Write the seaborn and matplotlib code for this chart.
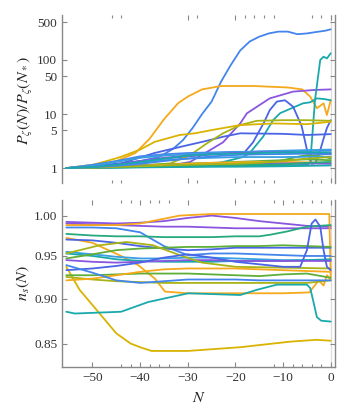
import pandas as pd
import matplotlib.pyplot as plt
import seaborn as sns
from matplotlib.ticker import FixedLocator, FixedFormatter, NullLocator

# colours used for the curves
colors = {
    'gold': '#d9b300', 'orange': '#f6a91c', 'olive': '#a8b415', 'green': '#5fae3a',
    'tealgreen': '#26a97e', 'teal': '#19a9ad', 'lightblue': '#3a9fe2',
    'blue': '#4385ec', 'royal': '#4a64e6', 'purple': '#8a55df',
}

# ---- top panel: P_zeta(N)/P_zeta(N_*) ----
grid = [-55.5, -50, -45, -40, -35, -30, -25, -20, -15, -10, -5, 0]

top_curves = {}
top_curves['big_blue'] = ('blue',
    [-55.5, -50, -45, -40, -36, -33, -31, -29, -27, -25, -23, -21, -19, -17, -15, -13, -11, -9, -7, -5, -3, -1, 0],
    [1.0, 1.05, 1.15, 1.35, 1.6, 2.3, 3.3, 5.5, 10, 17, 40, 80, 150, 220, 270, 310, 335, 335, 300, 310, 330, 350, 370])
top_curves['gold'] = ('orange',
    [-55.5, -50, -45, -41, -38, -35, -32, -30, -27, -23, -16, -9, -6, -4.3, -2.9, -1.5, -0.8, 0],
    [1.0, 1.1, 1.35, 1.9, 3.5, 8, 16, 21, 28.6, 33, 33, 31, 28.6, 21, 12.8, 15.8, 9.6, 18])
top_curves['purple_rise'] = ('purple',
    [-55.5, -45, -35, -31.6, -29.5, -26.8, -22.6, -19, -17.6, -12.8, -7.9, -3.7, 0],
    [1.0, 1.05, 1.1, 1.2, 1.3, 1.8, 3.0, 6.7, 10.3, 19.5, 26, 27.8, 28.6])
top_curves['teal_rise'] = ('teal',
    [-55.5, -40, -25, -18.4, -17, -14.2, -12.1, -10.6, -8.5, -5.8, -4.3, -2.9, -1.5, 0],
    [1.0, 1.05, 1.15, 1.6, 1.9, 3.8, 7.7, 10.4, 12.5, 15.8, 16.5, 19.5, 19, 18])
top_curves['teal_spike'] = ('teal',
    [-55.5, -40, -25, -10, -5, -4.3, -3.3, -2.2, -1.5, -0.8, 0],
    [1.0, 1.04, 1.08, 1.12, 1.15, 1.24, 18, 100, 115, 107, 133])
top_curves['hump_blue'] = ('royal',
    [-55.5, -45, -35, -25, -18, -16.3, -14, -12.8, -11.3, -9.6, -7.9, -6.1, -5, -4, -3.2, -2.2, -1.5, -0.8, 0],
    [1.0, 1.2, 1.5, 1.8, 2.0, 3.0, 7, 11.8, 17, 18, 13.7, 6, 2.2, 1.2, 1.24, 2.15, 3.5, 5.5, 7.7])
top_curves['blue4'] = ('royal',
    [-55.5, -50, -44, -37, -31.3, -26, -22.6, -19, -10, -5, 0],
    [1.0, 1.1, 1.22, 1.9, 2.5, 3.2, 3.8, 4.4, 4.3, 4.1, 4.25])
top_curves['olive'] = ('olive',
    [-55.5, -45, -38, -33.7, -29.5, -26, -22.6, -19, -15.5, -10, -5, 0],
    [1.0, 1.08, 1.15, 1.22, 1.74, 2.86, 4.4, 6.25, 7.5, 7.7, 7.7, 7.5])
top_curves['gold_olive'] = ('gold',
    [-55.5, -50, -47, -44, -40, -36.9, -31.7, -28.5, -25, -19, -12, -5, 0],
    [1.0, 1.15, 1.35, 1.62, 2.2, 3.07, 4.1, 4.4, 5.05, 6.25, 6.7, 6.5, 7.2])
top_curves['green_bump'] = ('green',
    [-55.5, -40, -25, -15, -10, -7, -5, -3, -1, 0],
    [1.0, 1.05, 1.1, 1.2, 1.4, 1.62, 1.74, 1.7, 1.6, 1.5])
top_curves['f1'] = ('blue', grid, [1, 1.15, 1.35, 1.65, 1.8, 1.9, 1.95, 2.0, 2.0, 2.05, 2.1, 2.1])
top_curves['f2'] = ('lightblue', grid, [1, 1.1, 1.3, 1.55, 1.7, 1.8, 1.9, 1.95, 2.05, 2.1, 2.15, 2.2])
top_curves['f3'] = ('purple', grid, [1, 1.05, 1.15, 1.35, 1.55, 1.7, 1.8, 1.9, 1.95, 1.95, 1.9, 1.85])
top_curves['f4'] = ('lightblue', grid, [1, 1.05, 1.12, 1.25, 1.4, 1.5, 1.55, 1.6, 1.6, 1.6, 1.62, 1.62])
top_curves['f5'] = ('green', grid, [1, 1.03, 1.07, 1.12, 1.18, 1.22, 1.25, 1.3, 1.35, 1.4, 1.45, 1.4])
top_curves['f6'] = ('orange', grid, [1, 1.02, 1.05, 1.1, 1.15, 1.2, 1.25, 1.28, 1.3, 1.3, 1.28, 1.25])
top_curves['f7'] = ('purple', grid, [1, 1.02, 1.05, 1.08, 1.1, 1.13, 1.15, 1.18, 1.2, 1.22, 1.22, 1.2])
top_curves['f8'] = ('teal', grid, [1, 1.01, 1.02, 1.03, 1.04, 1.05, 1.06, 1.06, 1.07, 1.08, 1.1, 1.12])
top_curves['f9'] = ('tealgreen', grid, [1, 1.02, 1.04, 1.07, 1.1, 1.12, 1.14, 1.15, 1.16, 1.17, 1.25, 1.3])
top_curves['f10'] = ('olive', grid, [1, 1.02, 1.05, 1.08, 1.12, 1.15, 1.18, 1.2, 1.25, 1.35, 1.5, 1.6])
top_curves['f11'] = ('blue', grid, [1, 1.04, 1.1, 1.2, 1.35, 1.5, 1.65, 1.75, 1.8, 1.82, 1.85, 1.8])
top_curves['f12'] = ('teal', grid, [1, 1.05, 1.15, 1.3, 1.5, 1.7, 1.8, 1.85, 1.9, 1.95, 1.98, 1.95])

# ---- bottom panel: n_s(N) ----
bot_curves = {}
bot_curves['purple_top'] = ('purple', grid,
    [0.992, 0.991, 0.990, 0.991, 0.993, 0.997, 1.000, 0.997, 0.993, 0.990, 0.987, 0.986])
bot_curves['purple2'] = ('purple', grid,
    [0.990, 0.989, 0.988, 0.987, 0.986, 0.986, 0.985, 0.984, 0.984, 0.984, 0.984, 0.984])
bot_curves['orange_top'] = ('orange',
    [-55.5, -45, -40, -35, -31.7, -25, -20, -10, -0.3, 0],
    [0.988, 0.988, 0.990, 0.996, 1.000, 1.002, 1.002, 1.002, 1.002, 0.925])
bot_curves['blue_cross'] = ('blue', grid,
    [0.985, 0.985, 0.984, 0.979, 0.962, 0.951, 0.953, 0.953, 0.952, 0.951, 0.950, 0.950])
bot_curves['tealgreen'] = ('tealgreen',
    [-55.5, -50, -45, -40, -35, -30, -25, -20, -15, -12.7, -9.2, -5, 0],
    [0.977, 0.975, 0.974, 0.974, 0.973, 0.973, 0.973, 0.974, 0.974, 0.976, 0.980, 0.986, 0.988])
bot_curves['orange_desc'] = ('orange',
    [-55.5, -50, -47.4, -44, -40.4, -36.9, -34.8, -30, -20, -10, -4.5, -3.5, -2.5, -1.5, -0.8, 0],
    [0.972, 0.966, 0.959, 0.950, 0.939, 0.923, 0.908, 0.906, 0.906, 0.906, 0.907, 0.914, 0.921, 0.915, 0.927, 0.922])
bot_curves['blue2'] = ('royal', grid,
    [0.970, 0.969, 0.966, 0.962, 0.959, 0.957, 0.958, 0.960, 0.960, 0.960, 0.960, 0.960])
bot_curves['blue3'] = ('lightblue', grid,
    [0.955, 0.952, 0.949, 0.947, 0.947, 0.948, 0.948, 0.947, 0.946, 0.945, 0.945, 0.945])
bot_curves['teal'] = ('teal', grid,
    [0.953, 0.950, 0.946, 0.944, 0.943, 0.943, 0.943, 0.944, 0.944, 0.944, 0.945, 0.946])
bot_curves['green'] = ('green', grid,
    [0.947, 0.952, 0.957, 0.959, 0.960, 0.961, 0.961, 0.962, 0.962, 0.963, 0.962, 0.961])
bot_curves['purple3'] = ('purple', grid,
    [0.945, 0.943, 0.942, 0.943, 0.944, 0.945, 0.945, 0.944, 0.944, 0.944, 0.944, 0.944])
bot_curves['olive_hump'] = ('olive',
    [-55.5, -52, -48.5, -42.9, -37.3, -31.7, -27, -20, -10, 0],
    [0.953, 0.958, 0.963, 0.967, 0.963, 0.951, 0.942, 0.937, 0.936, 0.935])
bot_curves['yellow'] = ('gold',
    [-55.5, -52.7, -48.5, -45, -42, -40, -37.6, -30, -19, -8.5, -3, 0],
    [0.937, 0.910, 0.883, 0.861, 0.850, 0.846, 0.842, 0.842, 0.846, 0.852, 0.854, 0.853])
bot_curves['blue_spike'] = ('royal',
    [-55.5, -50, -45, -40, -35, -30, -25, -20, -15, -10, -6.4, -5, -4, -3.2, -2.2, -1.5, -0.8, 0],
    [0.933, 0.935, 0.938, 0.942, 0.948, 0.952, 0.948, 0.943, 0.940, 0.937, 0.937, 0.957, 0.990, 0.995, 0.986, 0.957, 0.937, 0.933])
bot_curves['green2'] = ('green', grid,
    [0.927, 0.927, 0.928, 0.929, 0.929, 0.929, 0.928, 0.927, 0.926, 0.928, 0.929, 0.924])
bot_curves['olive2'] = ('olive', grid,
    [0.925, 0.922, 0.920, 0.919, 0.918, 0.918, 0.918, 0.918, 0.918, 0.918, 0.918, 0.921])
bot_curves['orange3'] = ('orange', grid,
    [0.921, 0.923, 0.927, 0.931, 0.934, 0.935, 0.935, 0.935, 0.934, 0.933, 0.932, 0.931])
bot_curves['blue4'] = ('blue', grid,
    [0.939, 0.930, 0.921, 0.918, 0.920, 0.922, 0.922, 0.922, 0.921, 0.921, 0.921, 0.921])
bot_curves['teal_low'] = ('teal',
    [-55.5, -53.7, -44, -38.3, -29.9, -19, -15.5, -11.3, -5, -4.3, -3.7, -2.9, -2, 0],
    [0.885, 0.883, 0.885, 0.896, 0.906, 0.904, 0.910, 0.916, 0.916, 0.912, 0.898, 0.879, 0.875, 0.874])


def to_frame(curves):
    rows = []
    for name, (col, ns, vals) in curves.items():
        for i, (n, v) in enumerate(zip(ns, vals)):
            rows.append({'curve': name, 'N': n, 'val': v, 'order': i})
    return pd.DataFrame(rows)


sns.set_style('ticks')
plt.rcParams['font.family'] = ['Liberation Serif', 'DejaVu Serif']
plt.rcParams['mathtext.fontset'] = 'stix'

frame_col = '#888888'
fig = plt.figure(figsize=(3.57, 4.13), dpi=100)
ax1 = fig.add_axes([62 / 357, 1 - 183 / 413, 273 / 357, 168 / 413])
ax2 = fig.add_axes([62 / 357, 1 - 367 / 413, 273 / 357, 167 / 413])

for ax, curves in [(ax1, top_curves), (ax2, bot_curves)]:
    df = to_frame(curves)
    pal = {name: colors[c[0]] for name, c in curves.items()}
    ax.axvline(0, color='#dcdcdc', lw=0.9, zorder=0)
    sns.lineplot(data=df, x='N', y='val', hue='curve', palette=pal, units='curve',
                 estimator=None, sort=False, legend=False, lw=1.3, ax=ax)
    ax.set_yscale('log')
    ax.set_xlim(-56.4, 0.9)
    ax.set_xlabel('')
    ax.set_ylabel('')
    for s in ax.spines.values():
        s.set_color(frame_col)
        s.set_linewidth(1.0)
    ax.tick_params(which='both', direction='in', color=frame_col, width=0.8,
                   labelcolor='#333333', labelsize=9.5, left=True, right=True,
                   top=True, bottom=True)
    ax.tick_params(which='major', length=3.5)
    ax.tick_params(which='minor', length=2.5)

# top panel
ax1.set_ylim(0.53, 680)
ax1.spines['top'].set_visible(False)
ax1.spines['bottom'].set_visible(False)
ax1.yaxis.set_major_locator(FixedLocator([1, 5, 10, 50, 100, 500]))
ax1.yaxis.set_major_formatter(FixedFormatter(['1', '5', '10', '50', '100', '500']))
ax1.yaxis.set_minor_locator(NullLocator())
ax1.xaxis.set_major_locator(FixedLocator([-30, -20, 0]))
ax1.xaxis.set_minor_locator(FixedLocator([-46, -44, -28, -18, -16, -14, -12, -4, -2]))
ax1.tick_params(axis='x', labelbottom=False)
ax1.set_ylabel(r'$P_\zeta(N)/P_\zeta(N_*)$', fontsize=11.5)
ax1.yaxis.set_label_coords(-0.10, 0.49)

# bottom panel
ax2.set_ylim(0.825, 1.020)
ax2.spines['top'].set_visible(False)
ax2.yaxis.set_major_locator(FixedLocator([0.85, 0.90, 0.95, 1.00]))
ax2.yaxis.set_major_formatter(FixedFormatter(['0.85', '0.90', '0.95', '1.00']))
ax2.yaxis.set_minor_locator(NullLocator())
ax2.xaxis.set_major_locator(FixedLocator([-50, -40, -30, -20, -10, 0]))
ax2.xaxis.set_major_formatter(FixedFormatter(['\u221250', '\u221240', '\u221230', '\u221220', '\u221210', '0']))
ax2.xaxis.set_minor_locator(FixedLocator([-44, -42, -38, -36, -34, -12, -8, -6, -4, -2]))
ax2.set_ylabel(r'$n_s(N)$', fontsize=11.5)
ax2.yaxis.set_label_coords(-0.11, 0.50)
ax2.set_xlabel(r'$N$', fontsize=11.5)
ax2.xaxis.set_label_coords(0.5, -0.14)

fig.savefig('out.png', dpi=100)
